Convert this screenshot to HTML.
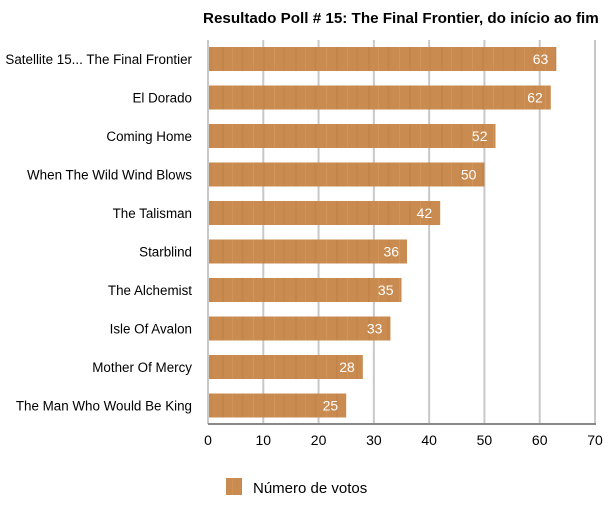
<!DOCTYPE html>
<html><head><meta charset="utf-8"><style>
body{margin:0;background:#fff;width:614px;height:500px;overflow:hidden;font-family:"Liberation Sans",sans-serif}
</style></head><body>
<svg id="c" width="614" height="500" xmlns="http://www.w3.org/2000/svg">
<defs>
<pattern id="wood" patternUnits="userSpaceOnUse" width="73" height="24">
<rect width="73" height="24" fill="#c98b4f"/>
<rect x="3" width="2" height="24" fill="#b97a40" opacity="0.35"/>
<rect x="13" width="1" height="24" fill="#d89e62" opacity="0.5"/>
<rect x="22" width="3" height="24" fill="#bd7e44" opacity="0.3"/>
<rect x="34" width="1" height="24" fill="#d9a066" opacity="0.5"/>
<rect x="44" width="2" height="24" fill="#b87842" opacity="0.3"/>
<rect x="55" width="1" height="24" fill="#dba46a" opacity="0.4"/>
<rect x="64" width="2" height="24" fill="#bf8045" opacity="0.3"/>
</pattern>
</defs>
<text x="203" y="23" font-size="15.2" font-weight="bold" fill="#000">Resultado Poll # 15: The Final Frontier, do início ao fim</text>
<g id="grid"></g><g id="bars"></g><g id="ticks"></g>
<g>
<rect x="226" y="478" width="16" height="17" fill="url(#wood)"/>
<text x="253" y="493" font-size="15" fill="#000">Número de votos</text>
</g>
</svg>
<script>
const categories=["Satellite 15... The Final Frontier","El Dorado","Coming Home","When The Wild Wind Blows","The Talisman","Starblind","The Alchemist","Isle Of Avalon","Mother Of Mercy","The Man Who Would Be King"];
const votes=[63,62,52,50,42,36,35,33,28,25];
const ticks=[0,10,20,30,40,50,60,70];
const NS="http://www.w3.org/2000/svg";
const x0=208,x1=595,xmax=70,yTop=40,yAxis=424,c0=59,step=38.5,bh=24;
const xs=v=>x0+v/xmax*(x1-x0);
const yc=i=>c0+i*step;
function mk(t,a,p){const e=document.createElementNS(NS,t);for(const k in a)e.setAttribute(k,a[k]);p.appendChild(e);return e;}
const grid=document.getElementById('grid'),bars=document.getElementById('bars'),tk=document.getElementById('ticks');
ticks.forEach(t=>{
 const l=mk('line',{x1:xs(t),x2:xs(t),y1:yTop,y2:yAxis,stroke:'#c8c8c8','stroke-width':2},grid);
 
 
 const tx=mk('text',{x:xs(t),y:445,'text-anchor':'middle','font-size':14,fill:'#000'},tk);
 tx.textContent=t;
 
 
});
const ax=mk('line',{x1:x0,x2:x1+1,y1:yAxis,y2:yAxis,stroke:'#888','stroke-width':2},grid);


categories.forEach((c,i)=>{
 const y=yc(i);
 const lb=mk('text',{x:192,y:y+5,'text-anchor':'end','font-size':13.4,fill:'#000'},bars);
 lb.textContent=c;
 
 
 const r=mk('rect',{x:x0+1,y:y-bh/2,width:xs(votes[i])-x0-1,height:bh,fill:'url(#wood)'},bars);
 
 
 const v=mk('text',{x:xs(votes[i])-8,y:y+5,'text-anchor':'end','font-size':14,fill:'#fff'},bars);
 v.textContent=votes[i];
 
 
});
</script>
</body></html>
